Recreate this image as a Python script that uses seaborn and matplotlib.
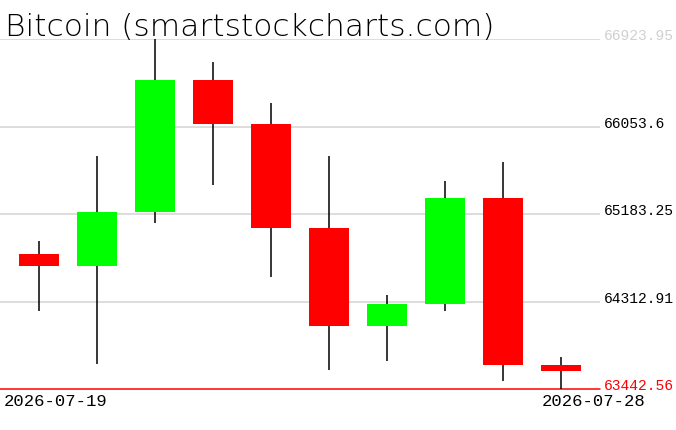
import matplotlib
matplotlib.use("Agg")
import matplotlib.pyplot as plt
import matplotlib.transforms as mtransforms
import seaborn as sns
import numpy as np
import pandas as pd

# ---- data ----
dates = ["2026-07-19", "2026-07-20", "2026-07-21", "2026-07-22", "2026-07-23",
         "2026-07-24", "2026-07-25", "2026-07-26", "2026-07-27", "2026-07-28"]
open_ = [64793, 64673, 65210, 66518, 66085, 65047, 64068, 64290, 65342, 63684]
high = [64913, 65760, 66923.95, 66697, 66292, 65760, 64384, 65511, 65701, 63766]
low = [64225, 63690, 65095, 65474, 64557, 63630, 63720, 64218, 63530, 63442.56]
close = [64673, 65210, 66518, 66085, 65047, 64068, 64290, 65342, 63684, 63620]
ytick_values = [66923.95, 66053.6, 65183.25, 64312.91, 63442.56]
ytick_labels = ["66923.95", "66053.6", "65183.25", "64312.91", "63442.56"]
title = "Bitcoin (smartstockcharts.com)"

df = pd.DataFrame({"date": dates, "open": open_, "high": high, "low": low, "close": close})
df["idx"] = np.arange(len(df))
df["up"] = df["close"] >= df["open"]

sns.set_theme(style="white")
plt.rcParams["font.family"] = ["DejaVu Sans"]

W, H = 676, 431
fig = plt.figure(figsize=(W / 100, H / 100), dpi=100)
fig.patch.set_facecolor("white")
ax = fig.add_axes([0, (H - 390.3) / H, 600 / W, 350 / H])
ax.set_facecolor("white")
for s in ax.spines.values():
    s.set_visible(False)

ymin, ymax = min(low), max(high)
ax.set_ylim(ymin, ymax)
ax.set_xlim(-0.67, len(df) - 1 + 0.67)

# grid lines
for v in ytick_values[:-1]:
    ax.axhline(v, color="#d3d3d3", lw=1.1, zorder=0)
ax.axhline(ytick_values[-1], color="#ff0000", lw=1.1, zorder=0, clip_on=False)

# wicks
ax.vlines(df["idx"], df["low"], df["high"], color="black", lw=1.1, zorder=1, clip_on=False)
# bodies
colors = np.where(df["up"], "#00ff00", "#ff0000")
bottoms = np.minimum(df["open"], df["close"])
heights = np.abs(df["close"] - df["open"])
ax.bar(df["idx"], heights, bottom=bottoms, width=0.69, color=colors, zorder=2, linewidth=0)

ax.set_xticks([])
ax.set_yticks([])

# right-side price labels, sitting on their lines
trans = mtransforms.blended_transform_factory(ax.transAxes, ax.transData)
off = mtransforms.ScaledTranslation(4 / 100, 0, fig.dpi_scale_trans)
label_colors = ["#d0d0d0", "black", "black", "black", "#ff0000"]
for v, lab, c in zip(ytick_values, ytick_labels, label_colors):
    ax.text(1.0, v, lab, transform=trans + off, ha="left", va="baseline",
            fontsize=10.5, family="Liberation Mono", color=c, clip_on=False)

# date labels
fig.text(4 / W, 1 - 406 / H, dates[0], ha="left", va="baseline",
         fontsize=12.4, family="Liberation Mono", color="black")
fig.text(542 / W, 1 - 406 / H, dates[-1], ha="left", va="baseline",
         fontsize=12.4, family="Liberation Mono", color="black")

# title
fig.text(5 / W, 1 - 36 / H, title, ha="left", va="baseline", fontsize=22.5,
         fontweight="light", color="black")

fig.savefig("out.png", dpi=100, facecolor="white")
